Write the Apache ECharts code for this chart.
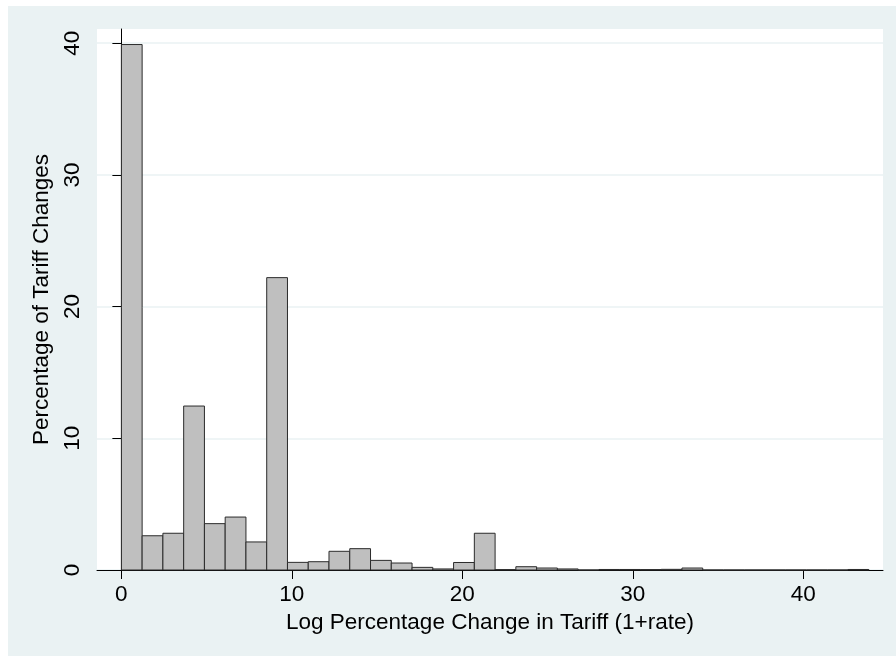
<!DOCTYPE html>
<html>
<head>
<meta charset="utf-8">
<script src="https://cdn.jsdelivr.net/npm/echarts@6/dist/echarts.min.js"></script>
<style>
  html, body { margin: 0; padding: 0; background: #ffffff; }
  #bg { position: absolute; left: 8px; top: 6px; width: 888px; height: 650px; background: #eaf2f3; }
  #chart { position: absolute; left: 0; top: 0; width: 896px; height: 656px; }
</style>
</head>
<body>
<div id="bg"></div>
<div id="chart"></div>
<script>
// Histogram bins (start at 0, uniform width)
const binStart = 0;
const binWidth = 1.218;
// Percentage of tariff changes in each bin
const percentages = [
  39.9, 2.6, 2.79, 12.45, 3.52, 4.02, 2.13, 22.2, 0.58, 0.63,
  1.42, 1.62, 0.73, 0.53, 0.2, 0.08, 0.57, 2.79, 0.03, 0.25,
  0.15, 0.08, 0.0, 0.04, 0.04, 0.03, 0.05, 0.15, 0, 0,
  0, 0, 0, 0, 0, 0.04
];
const xTicks = [0, 10, 20, 30, 40];
const yTicks = [0, 10, 20, 30, 40];
const xTitle = 'Log Percentage Change in Tariff (1+rate)';
const yTitle = 'Percentage of Tariff Changes';

const data = percentages.map((v, i) => [binStart + i * binWidth, v]);
const font = 'Liberation Sans, Arial, Helvetica, sans-serif';
const fs = 22.5;

const chart = echarts.init(document.getElementById('chart'), null, { renderer: 'canvas' });
chart.setOption({
  animation: false,
  backgroundColor: 'transparent',
  grid: {
    left: 97, right: 13, top: 29, bottom: 86,
    show: true, backgroundColor: '#ffffff', borderWidth: 0
  },
  xAxis: {
    type: 'value',
    min: -1.43, max: 44.68,
    name: xTitle,
    nameLocation: 'middle',
    nameGap: 37,
    nameTextStyle: { fontFamily: font, fontSize: fs, color: '#000' },
    axisLine: { show: true, onZero: false, lineStyle: { color: '#000', width: 1 } },
    axisTick: { show: true, length: 9, customValues: xTicks, lineStyle: { color: '#000' } },
    axisLabel: { customValues: xTicks, margin: 13, fontFamily: font, fontSize: fs, color: '#000' },
    splitLine: { show: false }
  },
  yAxis: {
    type: 'value',
    min: 0, max: 41.08, interval: 10,
    name: yTitle,
    nameLocation: 'middle',
    nameRotate: 90,
    nameGap: 42,
    nameTextStyle: { fontFamily: font, fontSize: fs, color: '#000' },
    axisLine: { show: true, lineStyle: { color: '#000', width: 1 } },
    axisTick: { show: true, length: 9, customValues: yTicks, lineStyle: { color: '#000' } },
    axisLabel: { customValues: yTicks, rotate: 90, margin: 13, fontFamily: font, fontSize: fs, color: '#000' },
    splitLine: { show: true, lineStyle: { color: '#eaf2f3', width: 1.5 } }
  },
  series: [{
    type: 'custom',
    data: data,
    encode: { x: 0, y: 1 },
    renderItem: function (params, api) {
      const x0 = api.value(0);
      const h = api.value(1);
      const pTop = api.coord([x0, h]);
      const pBot = api.coord([x0 + binWidth, 0]);
      return {
        type: 'rect',
        shape: { x: pTop[0], y: pTop[1], width: pBot[0] - pTop[0], height: pBot[1] - pTop[1] },
        style: { fill: '#bfbfbf', stroke: '#2b2b2b', lineWidth: 1 }
      };
    }
  }]
});
</script>
</body>
</html>
